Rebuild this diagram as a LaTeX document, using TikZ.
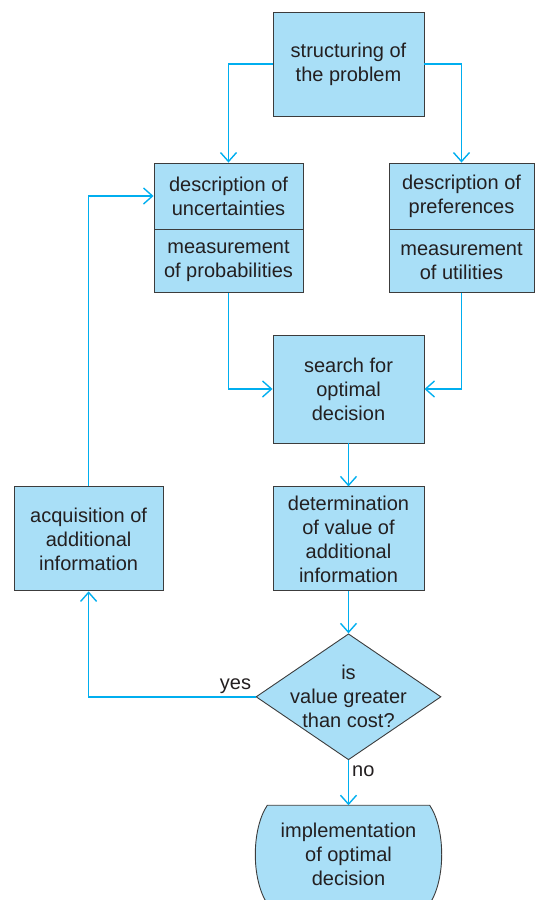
\documentclass[tikz,border=0pt]{standalone}
\usepackage{fontspec}
\setmainfont{Liberation Sans}
\usepackage{xcolor}
\usetikzlibrary{
    arrows.meta,
    positioning,
    shapes.geometric,
    backgrounds
}
\definecolor{boxfill}{HTML}{A9DFF7}
\definecolor{flowline}{HTML}{00AEEF}
\definecolor{inktext}{HTML}{231F20}
\definecolor{boxline}{HTML}{3C3C3C}
\tikzset{
    stepbox/.style={
        draw=boxline,
        line width=0.9pt,
        fill=boxfill,
        text=inktext,
        align=center,
        inner sep=0pt
    }
}
\tikzset{
    decision/.style={
        stepbox,
        diamond,
        minimum width=185pt,
        minimum height=126pt
    }
}
\tikzset{
    flow/.style={
        draw=flowline,
        line width=1.4pt,
        -{Straight Barb[length=9pt,width=16pt,line width=1.4pt]}
    }
}

\begin{document}
\begin{tikzpicture}[
    x=1pt, y=-1pt,
    font=\fontsize{20pt}{24pt}\selectfont
]
\useasboundingbox (0,0) rectangle (535,900);

\node[stepbox, minimum width=151pt, minimum height=104pt] (structure)
    at (348.5,64) {structuring of\\the problem};

\node[stepbox, minimum width=149pt, minimum height=66pt] (uncert)
    at (228.5,196) {description of\\uncertainties};
\node[stepbox, minimum width=149pt, minimum height=63pt, below=0pt of uncert] (probs)
    {measurement\\of probabilities};

\node[stepbox, minimum width=145pt, minimum height=66pt] (prefs)
    at (461.5,196) {description of\\preferences};
\node[stepbox, minimum width=145pt, minimum height=63pt, below=0pt of prefs] (utils)
    {measurement\\of utilities};

\node[stepbox, minimum width=151pt, minimum height=108pt] (search)
    at (348.5,389) {search for\\optimal\\decision};
\node[stepbox, minimum width=151pt, minimum height=104pt, below=43pt of search] (determ)
    {determination\\of value of\\additional\\information};
\node[stepbox, minimum width=149pt, minimum height=104pt, left=109pt of determ] (acquire)
    {acquisition of\\additional\\information};

\node[decision, below=42pt of determ,
    label={[text=inktext, align=center]center:is\\value greater\\than cost?}] (cost) {};

\node[minimum width=162pt, minimum height=98pt, text=inktext, align=center,
    inner sep=0pt, below=45pt of cost] (implement)
    {implementation\\of optimal\\decision};
\begin{scope}[on background layer]
\fill[boxfill] (implement.north west) -- (implement.north east)
    .. controls +(16,24) and +(16,-24) .. (implement.south east)
    -- (implement.south west)
    .. controls +(-16,-24) and +(-16,24) .. (implement.north west);
\draw[boxline, line width=0.9pt] (implement.south west)
    .. controls +(-16,-24) and +(-16,24) .. (implement.north west)
    -- (implement.north east)
    .. controls +(16,24) and +(16,-24) .. (implement.south east);
\end{scope}

\draw[flow] (structure.west) -| (uncert.north);
\draw[flow] (structure.east) -| (prefs.north);
\draw[flow] (probs.south) |- (search.west);
\draw[flow] (utils.south) |- (search.east);
\draw[flow] (search) -- (determ);
\draw[flow] (determ) -- (cost.north);
\draw[flow] (cost.west) -| (acquire.south)
    node[pos=0.06, above, text=inktext, inner sep=2pt] (yes) {yes};
\draw[flow] (acquire.north) |- (uncert.west);
\draw[flow] (cost.south) -- (implement.north)
    node[pos=0.25, right, text=inktext, inner sep=3pt] (no) {no};

\end{tikzpicture}
\end{document}
